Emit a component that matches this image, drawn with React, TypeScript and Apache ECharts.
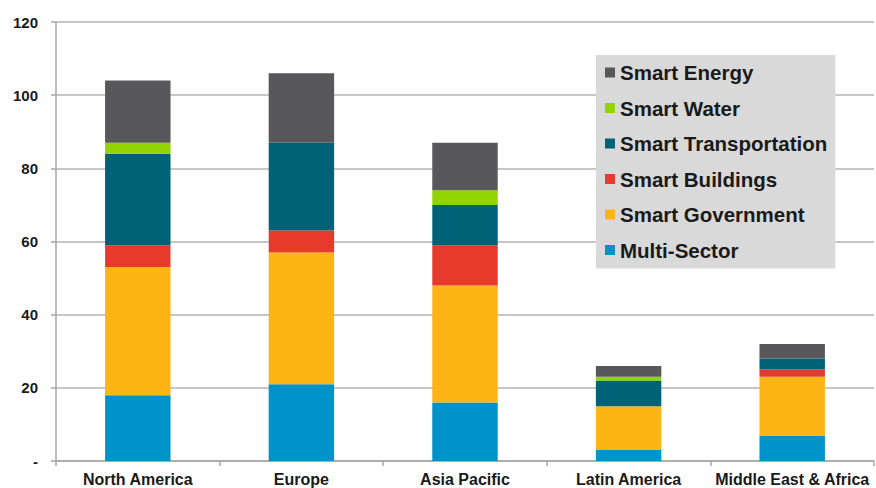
import React, { useEffect, useRef } from "react";
import * as echarts from "echarts";

const categories = ["North America", "Europe", "Asia Pacific", "Latin America", "Middle East & Africa"];
const multiSector = [18, 21, 16, 3, 7];
const smartGovernment = [35, 36, 32, 12, 16];
const smartBuildings = [6, 6, 11, 0, 2];
const smartTransportation = [25, 24, 11, 7, 3];
const smartWater = [3, 0, 4, 1, 0];
const smartEnergy = [17, 19, 13, 3, 4];

const seriesDefs = [
  { name: "Multi-Sector", data: multiSector, color: "#0093c9" },
  { name: "Smart Government", data: smartGovernment, color: "#fdb515" },
  { name: "Smart Buildings", data: smartBuildings, color: "#e63a2c" },
  { name: "Smart Transportation", data: smartTransportation, color: "#006276" },
  { name: "Smart Water", data: smartWater, color: "#92d400" },
  { name: "Smart Energy", data: smartEnergy, color: "#58585a" },
];

const FONT = "'Liberation Sans', Arial, sans-serif";

export default function App() {
  const ref = useRef<HTMLDivElement>(null);
  useEffect(() => {
    if (!ref.current) return;
    const chart = echarts.init(ref.current, undefined, { renderer: "svg" });
    chart.setOption({
      animation: false,
      backgroundColor: "#ffffff",
      grid: { left: 56, right: 2, top: 22, bottom: 27 },
      legend: {
        orient: "vertical",
        left: 596,
        top: 55,
        backgroundColor: "#d9d9d9",
        padding: [7, 8, 8, 9],
        itemWidth: 10,
        itemHeight: 10,
        itemGap: 14.5,
        icon: "rect",
        data: seriesDefs.map((s) => s.name).reverse(),
        textStyle: { fontFamily: FONT, fontSize: 20.5, fontWeight: "bold", color: "#1a1a1a" },
      },
      xAxis: {
        type: "category",
        data: categories,
        axisLine: { lineStyle: { color: "#a6a6a6", width: 1.5 } },
        axisTick: { show: true, length: 5, lineStyle: { color: "#a6a6a6", width: 1.5 } },
        axisLabel: { fontFamily: FONT, fontSize: 16, fontWeight: "bold", color: "#1a1a1a", margin: 10, interval: 0 },
      },
      yAxis: {
        type: "value",
        min: 0,
        max: 120,
        interval: 20,
        axisLine: { show: true, lineStyle: { color: "#a6a6a6", width: 1.5 } },
        axisTick: { show: true, length: 5, lineStyle: { color: "#a6a6a6", width: 1.5 } },
        splitLine: { lineStyle: { color: "#b3b3b3", width: 1.5 } },
        axisLabel: {
          fontFamily: FONT,
          fontSize: 15,
          fontWeight: "bold",
          color: "#1a1a1a",
          margin: 18,
          formatter: (v: number) => (v === 0 ? "-" : String(v)),
        },
      },
      series: seriesDefs.map((s) => ({
        name: s.name,
        type: "bar",
        stack: "total",
        data: s.data,
        barWidth: "40%",
        itemStyle: { color: s.color },
      })),
    });
    return () => chart.dispose();
  }, []);
  return <div ref={ref} style={{ position: "fixed", left: 0, top: 0, width: 876, height: 488 }} />;
}
